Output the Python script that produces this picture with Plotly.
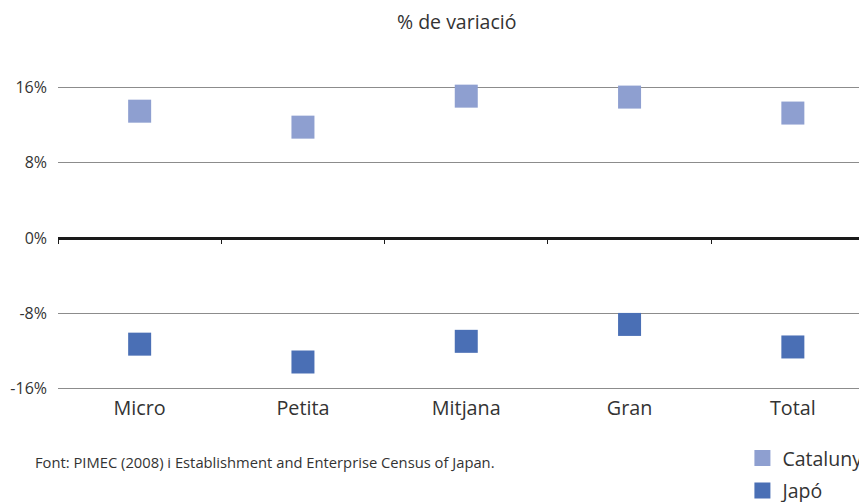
import plotly.graph_objects as go

categories = ["Micro", "Petita", "Mitjana", "Gran", "Total"]
catalunya = [13.5, 11.8, 15.1, 15.0, 13.3]
japo = [-11.3, -13.2, -11.0, -9.2, -11.6]
y_ticks = [-16, -8, 0, 8, 16]
y_tick_labels = ["-16%", "-8%", "0%", "8%", "16%"]

FONT = "Open Sans"
TXT = "#333333"

fig = go.Figure()
fig.add_trace(go.Scatter(
    x=categories, y=catalunya, mode="markers", name="Catalunya",
    marker=dict(symbol="square", size=23, color="#8E9FD0", line=dict(width=0)),
    legendgroup="a",
))
fig.add_trace(go.Scatter(
    x=categories, y=japo, mode="markers", name="Japó",
    marker=dict(symbol="square", size=23, color="#4A6FB5", line=dict(width=0)),
    legendgroup="b",
))

x_range = [-0.5, 4.454]

# page has an 8px body margin, so the figure is sized to end at the window edge
fig.update_layout(
    width=859, height=494,
    margin=dict(l=50, r=0, t=75.3, b=108.8, autoexpand=False),
    paper_bgcolor="white", plot_bgcolor="white",
    font=dict(family=FONT, color=TXT),
    showlegend=True,
    legend=dict(
        x=0.846, xanchor="left", y=-0.148, yanchor="top",
        font=dict(size=19.5, color=TXT, family=FONT),
        bgcolor="rgba(0,0,0,0)", tracegroupgap=4,
        itemsizing="trace",
    ),
    xaxis=dict(
        type="category", range=x_range, showgrid=False, showline=False,
        zeroline=False, ticks="", tickfont=dict(size=19.8, color=TXT),
        ticklabelstandoff=1,
    ),
    xaxis2=dict(
        overlaying="x", anchor="free", position=0.5, type="linear",
        range=x_range, showgrid=False, zeroline=False,
        showline=True, linewidth=2.5, linecolor="#1a1a1a",
        ticks="outside", ticklen=4, tickwidth=1, tickcolor="#1a1a1a",
        tickvals=[-0.5, 0.5, 1.5, 2.5, 3.5, 4.5], showticklabels=False,
    ),
    yaxis=dict(
        range=[-16.5, 16.5], tickvals=y_ticks, ticktext=y_tick_labels,
        showgrid=True, gridcolor="#8c8c8c", gridwidth=1,
        zeroline=False, showline=False, ticks="",
        tickfont=dict(size=16, color=TXT), ticklabelstandoff=10,
    ),
)

fig.add_trace(go.Scatter(x=[None], y=[None], xaxis="x2", showlegend=False, hoverinfo="skip"))

fig.add_annotation(
    text="% de variació", xref="paper", yref="paper", x=0.492, y=1.1978,
    xanchor="center", yanchor="middle", showarrow=False,
    font=dict(size=19.5, color=TXT, family=FONT),
)
fig.add_annotation(
    text="Font: PIMEC (2008) i Establishment and Enterprise Census of Japan.",
    xref="paper", yref="paper", x=-0.0309, y=-0.222,
    xanchor="left", yanchor="middle", showarrow=False,
    font=dict(size=14.75, color=TXT, family=FONT),
)

fig.write_html("out.html")
